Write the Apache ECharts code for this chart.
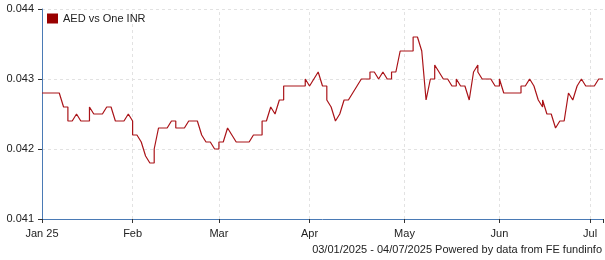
<!DOCTYPE html>
<html><head><meta charset="utf-8">
<script src="https://cdn.jsdelivr.net/npm/echarts@6/dist/echarts.min.js"></script>
<style>html,body{margin:0;padding:0;background:#fff}#c{width:605px;height:260px}</style>
</head><body><div id="c"></div>
<script>
const seriesName = 'AED vs One INR';
const startDate = '2025-01-03';
const endDate = '2025-07-04';
const monthLabels = ['Jan 25', 'Feb', 'Mar', 'Apr', 'May', 'Jun', 'Jul'];
const yMin = 0.041, yMax = 0.044, yStep = 0.001;
const footerText = '03/01/2025 - 04/07/2025 Powered by data from FE fundinfo';

// closing rate on each trading day (weekdays)
const closeValues = [
  0.0428, 0.0428, 0.0428, 0.0428, 0.0428,
  0.0426, 0.0424, 0.0424, 0.0425, 0.0424,
  0.0424, 0.0426, 0.0425, 0.0425, 0.0425,
  0.0426, 0.0426, 0.0424, 0.0424, 0.0424,
  0.0425, 0.0422, 0.0422, 0.0421, 0.0419,
  0.0418, 0.0420, 0.0423, 0.0423, 0.0423,
  0.0424, 0.0423, 0.0423, 0.0423, 0.0424,
  0.0424, 0.0424, 0.0422, 0.0421, 0.0421,
  0.0420, 0.0421, 0.0421, 0.0423, 0.0422,
  0.0421, 0.0421, 0.0421, 0.0421, 0.0422,
  0.0422, 0.0424, 0.0424, 0.0426, 0.0425,
  0.0427, 0.0429, 0.0429, 0.0429, 0.0429,
  0.0429, 0.0430, 0.0429, 0.0430, 0.0431,
  0.0429, 0.0427, 0.0426, 0.0424, 0.0425,
  0.0427, 0.0427, 0.0428, 0.0429, 0.0430,
  0.0430, 0.0431, 0.0431, 0.0430, 0.0431,
  0.0430, 0.0431, 0.0431, 0.0434, 0.0434,
  0.0434, 0.0436, 0.0436, 0.0434, 0.0427,
  0.0430, 0.0432, 0.0431, 0.0430, 0.0430,
  0.0429, 0.0430, 0.0429, 0.0429, 0.0427,
  0.0431, 0.0431, 0.0430, 0.0430, 0.0430,
  0.0429, 0.0430, 0.0428, 0.0428, 0.0428,
  0.0428, 0.0429, 0.0429, 0.0430, 0.0429,
  0.0427, 0.0427, 0.0425, 0.0425, 0.0423,
  0.0424, 0.0424, 0.0428, 0.0427, 0.0429,
  0.0430, 0.0429, 0.0429, 0.0429, 0.0430,
  0.0430
];
// rate quoted over each weekend (shown at the following Monday)
const weekendValues = [
  0.0428, 0.0426, 0.0424, 0.0426, 0.0424, 0.0418, 0.0424, 0.0424, 0.0420,
  0.0421, 0.0422, 0.0427, 0.0429, 0.0429, 0.0427, 0.0430, 0.0430, 0.0434,
  0.0430, 0.0429, 0.0432, 0.0429, 0.0428, 0.0426, 0.0424, 0.0429
];

const tradingDates = [];
for (let d = new Date(startDate + 'T00:00:00Z'); d <= new Date(endDate + 'T00:00:00Z'); d.setUTCDate(d.getUTCDate() + 1)) {
  const wd = d.getUTCDay();
  if (wd !== 0 && wd !== 6) tradingDates.push(new Date(d.getTime()));
}
const monthStarts = [];
tradingDates.forEach((d, i) => {
  if (i === 0 || d.getUTCMonth() !== tradingDates[i - 1].getUTCMonth()) monthStarts.push(i);
});
const lastIdx = tradingDates.length - 1;

const lineData = [];
let wk = 0;
tradingDates.forEach((d, i) => {
  if (i > 0 && d.getUTCDay() === 1 && wk < weekendValues.length) lineData.push([i, weekendValues[wk++]]);
  lineData.push([i, closeValues[i]]);
});

const FONT = '"Liberation Sans", Arial, sans-serif';
const axisBlue = '#4a7ab5';
const gridGray = '#e2e2e2';
const chart = echarts.init(document.getElementById('c'), null, { renderer: 'canvas' });
chart.setOption({
  animation: false,
  backgroundColor: '#fff',
  textStyle: { fontFamily: FONT },
  grid: { left: 42, top: 9, right: 2, bottom: 41 },
  legend: {
    left: 47, top: 13, padding: 0, itemWidth: 11, itemHeight: 10, itemGap: 10,
    icon: 'rect',
    textStyle: { fontSize: 11, color: '#222', fontFamily: FONT },
    data: [{ name: seriesName, itemStyle: { color: '#990000' } }]
  },
  title: {
    text: footerText, right: 3, bottom: 5, padding: 0,
    textStyle: { fontSize: 11, fontWeight: 'normal', color: '#222', fontFamily: FONT }
  },
  xAxis: {
    type: 'value', min: 0, max: lastIdx,
    axisLine: { lineStyle: { color: axisBlue, width: 1 } },
    axisTick: { show: true, length: 4, customValues: monthStarts.concat([lastIdx]), lineStyle: { color: '#333' } },
    axisLabel: {
      customValues: monthStarts, margin: 9, fontSize: 11, color: '#222', fontFamily: FONT,
      formatter: v => monthLabels[monthStarts.indexOf(Math.round(v))] || ''
    },
    splitLine: { show: false }
  },
  yAxis: {
    type: 'value', min: yMin, max: yMax, interval: yStep,
    axisLine: { show: true, lineStyle: { color: axisBlue, width: 1 } },
    axisTick: { show: true, length: 4, lineStyle: { color: '#333' } },
    axisLabel: { fontSize: 11, color: '#222', margin: 8, fontFamily: FONT, formatter: v => v.toFixed(3) },
    splitLine: { show: true, lineStyle: { color: gridGray, type: [3, 3] } }
  },
  series: [
    {
      name: 'monthGrid', type: 'line', data: [], z: 0, silent: true,
      markLine: {
        silent: true, symbol: 'none', label: { show: false }, animation: false, z: 0,
        lineStyle: { color: gridGray, type: [3, 3], width: 1 },
        data: monthStarts.slice(1).map(i => ({ xAxis: i }))
      }
    },
    {
      name: seriesName, type: 'line', data: lineData, showSymbol: false, symbol: 'none', z: 10,
      lineStyle: { color: '#aa1419', width: 1.2 }, itemStyle: { color: '#990000' }
    }
  ]
});
</script></body></html>
